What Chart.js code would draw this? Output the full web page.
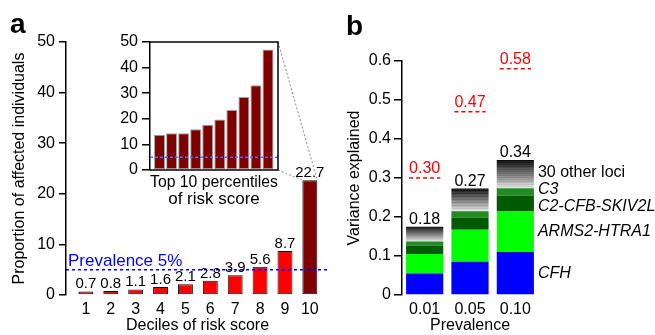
<!DOCTYPE html>
<html>
<head>
<meta charset="utf-8">
<title>Risk score deciles and variance explained</title>
<script src="https://cdn.jsdelivr.net/npm/chart.js"></script>
<style>
body { margin: 0; background: #fff; }
#wrap { position: relative; width: 655px; height: 335px; overflow: hidden; }
canvas { position: absolute; top: 0; }
#main { left: 0; }
#inset { left: 96px; }
#variance { left: 340px; }
</style>
</head>
<body>
<div id="wrap">
	<canvas id="main" width="340" height="335"></canvas>
	<canvas id="inset" width="194" height="215"></canvas>
	<canvas id="variance" width="315" height="335"></canvas>
</div>
<script>
// panel a : deciles of risk score
var deciles = [1, 2, 3, 4, 5, 6, 7, 8, 9, 10];
var affectedPct = [0.7, 0.8, 1.1, 1.6, 2.1, 2.8, 3.9, 5.6, 8.7, 22.7];
// inset : top 10 percentiles
var topPercentiles = [1, 2, 3, 4, 5, 6, 7, 8, 9, 10];
var topAffectedPct = [13.8, 14.4, 14.4, 15.9, 17.7, 19.7, 23.4, 28.5, 33.1, 47.1];
var prevalencePct = 5;

// panel b : variance explained
var prevalenceLevels = ['0.01', '0.05', '0.10'];
var cfhVar = [0.055, 0.085, 0.110];
var armsVar = [0.050, 0.082, 0.104];
var c2Var = [0.021, 0.032, 0.041];
var c3Var = [0.011, 0.016, 0.019];
var otherVar = [0.038, 0.058, 0.072];
var explainedTotals = [0.18, 0.27, 0.34];
var heritability = [0.30, 0.47, 0.58];

var FONT = '"Liberation Sans", Arial, sans-serif';
Chart.defaults.font.family = FONT;
Chart.defaults.font.size = 16;
Chart.defaults.color = '#000';

function fixedTicks(values) {
	return function(s) { s.ticks = values.map(function(v) { return {value: v}; }); };
}

var insetDecor = {
	id: 'insetDecor',
	afterDatasetsDraw: function(chart) {
		var c = chart.ctx, a = chart.chartArea, y = chart.scales.y.getPixelForValue(prevalencePct);
		c.save();
		c.strokeStyle = '#6060ff';
		c.lineWidth = 1.5;
		c.setLineDash([3, 2]);
		c.beginPath(); c.moveTo(a.left, y); c.lineTo(a.right, y); c.stroke();
		c.restore();
	},
	afterDraw: function(chart) {
		var c = chart.ctx, a = chart.chartArea;
		c.save();
		c.strokeStyle = '#000';
		c.lineWidth = 1.5;
		c.beginPath();
		c.moveTo(a.left, a.top); c.lineTo(a.right, a.top); c.lineTo(a.right, a.bottom); c.lineTo(a.left, a.bottom);
		c.stroke();
		c.restore();
	}
};

var insetChart = new Chart(document.getElementById('inset'), {
	type: 'bar',
	data: {
		datasets: [{
			data: topPercentiles.map(function(p, i) { return {x: p, y: topAffectedPct[i]}; }),
			backgroundColor: '#800000',
			borderColor: '#a0a0a0',
			borderWidth: 1,
			borderSkipped: false,
			barPercentage: 0.91,
			categoryPercentage: 1
		}]
	},
	options: {
		responsive: false,
		animation: false,
		layout: { padding: { top: 42, right: 12, left: 0, bottom: 0 } },
		plugins: { legend: { display: false }, tooltip: { enabled: false } },
		scales: {
			x: {
				type: 'linear', min: 0.21, max: 10.83, offset: false,
				afterBuildTicks: fixedTicks(topPercentiles),
				afterFit: function(s) { s.height = 45; },
				grid: { display: false, drawTicks: false },
				border: { display: false },
				ticks: { display: false },
				title: { display: true, text: ['Top 10 percentiles', 'of risk score'], padding: { top: 0, bottom: 7 }, font: { size: 17, lineHeight: 1.0 } }
			},
			y: {
				min: 0, max: 50,
				ticks: { stepSize: 10, padding: 4 },
				afterFit: function(s) { s.width = 54; },
				grid: { drawOnChartArea: false, tickLength: 8, color: '#000', lineWidth: 1.5 },
				border: { color: '#000', width: 1.5 }
			}
		}
	},
	plugins: [insetDecor]
});

var mainDecor = {
	id: 'mainDecor',
	afterDatasetsDraw: function(chart) {
		var c = chart.ctx, a = chart.chartArea;
		var y = chart.scales.y.getPixelForValue(prevalencePct);
		var bars = chart.getDatasetMeta(0).data;
		c.save();
		// prevalence line
		c.strokeStyle = '#0000ff';
		c.lineWidth = 1.5;
		c.setLineDash([3, 3]);
		c.beginPath(); c.moveTo(a.left, y); c.lineTo(a.right, y); c.stroke();
		c.setLineDash([]);
		c.fillStyle = '#0000ff';
		c.textAlign = 'left';
		c.textBaseline = 'alphabetic';
		c.font = '17px ' + FONT;
		c.fillText('Prevalence ' + prevalencePct + '%', a.left + 2, y - 4);
		// value labels
		c.fillStyle = '#000';
		c.textAlign = 'center';
		c.font = '15px ' + FONT;
		bars.forEach(function(b, i) {
			c.fillText(affectedPct[i].toFixed(1), b.x, b.y - 3);
		});
		// zoom connectors to the inset
		var ia = insetChart.chartArea, off = insetChart.canvas.offsetLeft;
		var last = bars[bars.length - 1];
		c.strokeStyle = '#888';
		c.lineWidth = 1;
		c.setLineDash([2, 2]);
		c.beginPath();
		c.moveTo(ia.right + off, ia.top); c.lineTo(last.x + last.width / 2, last.y);
		c.moveTo(ia.right + off, ia.bottom); c.lineTo(last.x - last.width / 2, last.y);
		c.stroke();
		c.restore();
	},
	afterDraw: function(chart) {
		var c = chart.ctx;
		c.save();
		c.fillStyle = '#000';
		c.font = 'bold 28px ' + FONT;
		c.textBaseline = 'alphabetic';
		c.fillText('a', 10, 33);
		c.restore();
	}
};

var mainChart = new Chart(document.getElementById('main'), {
	type: 'bar',
	data: {
		datasets: [{
			data: deciles.map(function(d, i) { return {x: d, y: affectedPct[i]}; }),
			backgroundColor: deciles.map(function(d) { return d === 10 ? '#800000' : '#ff0000'; }),
			borderColor: '#111',
			borderWidth: 1,
			borderSkipped: false,
			barPercentage: 0.75,
			categoryPercentage: 0.8
		}]
	},
	options: {
		responsive: false,
		animation: false,
		layout: { padding: { top: 42, right: 11, left: 0, bottom: 0 } },
		plugins: { legend: { display: false }, tooltip: { enabled: false } },
		scales: {
			x: {
				type: 'linear', min: 0.2, max: 10.77, offset: false,
				afterBuildTicks: fixedTicks(deciles),
				afterFit: function(s) { s.height = 40; },
				grid: { display: false, drawTicks: false },
				border: { display: false },
				ticks: { padding: 5 },
				title: { display: true, text: 'Deciles of risk score', padding: 0 }
			},
			y: {
				min: 0, max: 50,
				ticks: { stepSize: 10, padding: 4 },
				afterFit: function(s) { s.width = 66; },
				grid: { drawOnChartArea: false, tickLength: 7, color: '#000', lineWidth: 1.5 },
				border: { color: '#000', width: 1.5 },
				title: { display: true, text: 'Proportion of affected individuals', padding: { top: 10, bottom: 0 } }
			}
		}
	},
	plugins: [mainDecor]
});

// gray bands for the 30 other loci, black on top
function lociGradient(ctx) {
	if (ctx.type !== 'data') return '#888';
	var chart = ctx.chart, y = chart.scales.y, i = ctx.dataIndex;
	var base = cfhVar[i] + armsVar[i] + c2Var[i] + c3Var[i];
	var top = base + otherVar[i];
	var y0 = y.getPixelForValue(top), y1 = y.getPixelForValue(base);
	if (!isFinite(y0) || !isFinite(y1) || y0 === y1) return '#888';
	var g = chart.ctx.createLinearGradient(0, y0, 0, y1);
	var n = 30;
	for (var k = 0; k < n; k++) {
		var v = Math.round(8 + k * 7 + (k % 2 ? 18 : 0));
		if (v > 235) v = 235;
		var col = 'rgb(' + v + ',' + v + ',' + v + ')';
		g.addColorStop(k / n, col);
		g.addColorStop((k + 1) / n - 0.001, col);
	}
	return g;
}

var varianceDecor = {
	id: 'varianceDecor',
	afterDatasetsDraw: function(chart) {
		var c = chart.ctx, ys = chart.scales.y;
		var metas = chart.data.datasets.map(function(d, i) { return chart.getDatasetMeta(i); });
		var topMeta = metas[metas.length - 1];
		c.save();
		c.font = '16px ' + FONT;
		c.textAlign = 'center';
		c.textBaseline = 'alphabetic';
		topMeta.data.forEach(function(b, i) {
			c.fillStyle = '#000';
			c.fillText(explainedTotals[i].toFixed(2), b.x, b.y - 3);
			var hy = ys.getPixelForValue(heritability[i]);
			var hw = b.width * 0.84;
			c.strokeStyle = '#ff0000';
			c.lineWidth = 1.5;
			c.setLineDash([4, 3]);
			c.beginPath(); c.moveTo(b.x - hw / 2, hy); c.lineTo(b.x + hw / 2, hy); c.stroke();
			c.fillStyle = '#ff0000';
			c.fillText(heritability[i].toFixed(2), b.x, hy - 5);
		});
		// locus names beside the last bar, spread so they do not touch
		var last = prevalenceLevels.length - 1;
		var items = metas.map(function(m, i) {
			var b = m.data[last];
			return { text: chart.data.datasets[i].label, y: (b.y + b.base) / 2, x: b.x + b.width / 2 + 4, italic: i < metas.length - 1 };
		});
		for (var it = 0; it < 50; it++) {
			for (var j = 0; j < items.length - 1; j++) {
				var gap = items[j].y - items[j + 1].y;
				if (gap < 17) {
					var d = (17 - gap) / 2;
					items[j].y += d; items[j + 1].y -= d;
				}
			}
		}
		c.fillStyle = '#000';
		c.textAlign = 'left';
		c.textBaseline = 'middle';
		items.forEach(function(t) {
			c.font = (t.italic ? 'italic ' : '') + '16px ' + FONT;
			c.fillText(t.text, t.x, t.y);
		});
		c.restore();
	},
	afterDraw: function(chart) {
		var c = chart.ctx;
		c.save();
		c.fillStyle = '#000';
		c.font = 'bold 28px ' + FONT;
		c.textBaseline = 'alphabetic';
		c.fillText('b', 6, 35);
		c.restore();
	}
};

var varianceChart = new Chart(document.getElementById('variance'), {
	type: 'bar',
	data: {
		labels: prevalenceLevels,
		datasets: [
			{ label: 'CFH', data: cfhVar, backgroundColor: '#0000ff' },
			{ label: 'ARMS2-HTRA1', data: armsVar, backgroundColor: '#00ff00' },
			{ label: 'C2-CFB-SKIV2L', data: c2Var, backgroundColor: '#005a00' },
			{ label: 'C3', data: c3Var, backgroundColor: '#228b22' },
			{ label: '30 other loci', data: otherVar, backgroundColor: lociGradient }
		]
	},
	options: {
		responsive: false,
		animation: false,
		datasets: { bar: { barPercentage: 0.82, categoryPercentage: 1, borderWidth: 0 } },
		layout: { padding: { top: 61, right: 117, left: 0, bottom: 0 } },
		plugins: { legend: { display: false }, tooltip: { enabled: false } },
		scales: {
			x: {
				stacked: true,
				afterFit: function(s) { s.height = 40; },
				grid: { display: false, drawTicks: false },
				border: { display: false },
				ticks: { padding: 5 },
				title: { display: true, text: 'Prevalence', padding: 0 }
			},
			y: {
				stacked: true,
				min: 0, max: 0.6,
				ticks: { stepSize: 0.1, padding: 3 },
				afterFit: function(s) { s.width = 62; },
				grid: { drawOnChartArea: false, tickLength: 8, color: '#000', lineWidth: 1.5 },
				border: { color: '#000', width: 1.5 },
				title: { display: true, text: 'Variance explained', padding: { top: 5, bottom: 0 } }
			}
		}
	},
	plugins: [varianceDecor]
});
</script>
</body>
</html>
